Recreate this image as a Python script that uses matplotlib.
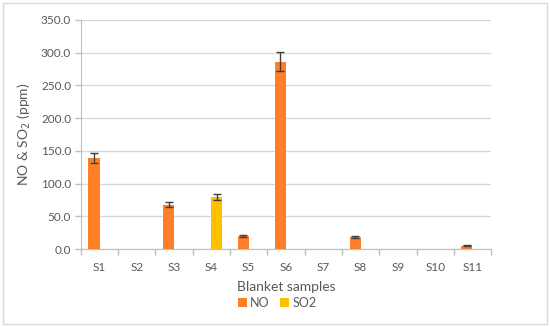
import numpy as np
import matplotlib.pyplot as plt
from matplotlib.patches import Rectangle

samples = ['S1', 'S2', 'S3', 'S4', 'S5', 'S6', 'S7', 'S8', 'S9', 'S10', 'S11']
no_vals = [139, 0, 68, 0, 20, 286, 0, 19, 0, 0, 5]
no_err = [7, 0, 3.5, 0, 1.5, 14.5, 0, 1.5, 0, 0, 1]
so2_vals = [0, 0, 0, 80, 0, 0, 0, 0, 0, 0, 0]
so2_err = [0, 0, 0, 4.5, 0, 0, 0, 0, 0, 0, 0]

plt.rcParams['font.family'] = ['Lato', 'DejaVu Sans']
txt = '#595959'
grid = '#d9d9d9'

fig = plt.figure(figsize=(5.5, 3.27), dpi=100)
ax = fig.add_axes([0.147, 0.2385, 0.746, 0.7005])
fig.patches.append(Rectangle((0.005, 0.008), 0.99, 0.984, transform=fig.transFigure,
                             fill=False, edgecolor='#d9d9d9', linewidth=1))

x = np.arange(len(samples))
w = 0.295
no_mask = np.array(no_vals) > 0
so2_mask = np.array(so2_vals) > 0
ekw = dict(ecolor='#404040', elinewidth=1, capsize=3, capthick=1)
ax.bar(x[no_mask] - w / 2, np.array(no_vals)[no_mask], w, color='#ff7f27', label='NO', zorder=3,
       yerr=np.array(no_err)[no_mask], error_kw=ekw)
ax.bar(x[so2_mask] + w / 2, np.array(so2_vals)[so2_mask], w, color='#ffc000', label='SO2', zorder=3,
       yerr=np.array(so2_err)[so2_mask], error_kw=ekw)

ax.set_xlim(-0.5, len(samples) - 0.5)
ax.set_ylim(0, 350)
ax.set_yticks(np.arange(0, 351, 50))
ax.set_yticklabels(['%.1f' % v for v in np.arange(0, 351, 50)])
ax.yaxis.grid(True, color=grid, linewidth=1, zorder=0)
ax.set_axisbelow(True)

ax.set_xticks(x)
ax.set_xticklabels(samples)
ax.set_xticks(np.arange(-0.5, len(samples)), minor=True)
ax.tick_params(axis='x', which='major', length=0, pad=9, labelsize=8.5, labelcolor=txt)
ax.tick_params(axis='x', which='minor', length=4, color='#bfbfbf', width=1)
ax.tick_params(axis='y', length=4, color='#bfbfbf', width=1, labelsize=8.5, labelcolor=txt, pad=3)

for s in ['top', 'right']:
    ax.spines[s].set_visible(False)
ax.spines['left'].set_color('#bfbfbf')
ax.spines['bottom'].set_color('#bfbfbf')

ax.set_xlabel('Blanket samples', fontsize=10, color=txt, labelpad=6)
ax.set_ylabel('NO & SO$_2$ (ppm)', fontsize=10, color=txt, labelpad=6)

leg = fig.legend(loc='center', bbox_to_anchor=(0.504, 0.074), ncol=2, frameon=False,
                 fontsize=9, handlelength=0.7, handleheight=0.7, handletextpad=0.3,
                 columnspacing=0.8, borderpad=0)
for t in leg.get_texts():
    t.set_color(txt)

fig.savefig('out.png', dpi=100)
